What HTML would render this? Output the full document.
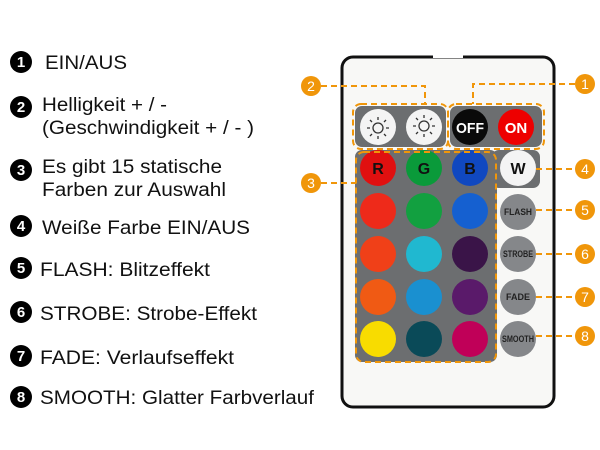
<!DOCTYPE html><html><head><style>body{margin:0;background:#fff}svg{display:block}</style></head><body>
<svg width="600" height="450" viewBox="0 0 600 450" xmlns="http://www.w3.org/2000/svg" font-family="Liberation Sans, sans-serif">
<g font-size="19" fill="#111">
<g fill="#000"><circle cx="21" cy="62" r="11"/><circle cx="21" cy="107" r="11"/><circle cx="21" cy="170" r="11"/><circle cx="21" cy="226" r="11"/><circle cx="21" cy="268" r="11"/><circle cx="21" cy="312" r="11"/><circle cx="21" cy="356" r="11"/><circle cx="21" cy="397" r="11"/></g>
<g fill="#fff" font-size="15" font-weight="bold" text-anchor="middle"><text x="21" y="67">1</text><text x="21" y="112">2</text><text x="21" y="175">3</text><text x="21" y="231">4</text><text x="21" y="273">5</text><text x="21" y="317">6</text><text x="21" y="361">7</text><text x="21" y="402">8</text></g>
<text x="45" y="69" textLength="82" lengthAdjust="spacingAndGlyphs">EIN/AUS</text>
<text x="42" y="111" textLength="125" lengthAdjust="spacingAndGlyphs">Helligkeit + / -</text>
<text x="42" y="134" textLength="212" lengthAdjust="spacingAndGlyphs">(Geschwindigkeit + / - )</text>
<text x="42" y="173" textLength="180" lengthAdjust="spacingAndGlyphs">Es gibt 15 statische</text>
<text x="42" y="196" textLength="184" lengthAdjust="spacingAndGlyphs">Farben zur Auswahl</text>
<text x="42" y="234" textLength="208" lengthAdjust="spacingAndGlyphs">Weiße Farbe EIN/AUS</text>
<text x="40" y="276" textLength="170" lengthAdjust="spacingAndGlyphs">FLASH: Blitzeffekt</text>
<text x="40" y="320" textLength="217" lengthAdjust="spacingAndGlyphs">STROBE: Strobe-Effekt</text>
<text x="40" y="364" textLength="194" lengthAdjust="spacingAndGlyphs">FADE: Verlaufseffekt</text>
<text x="40" y="404" textLength="274" lengthAdjust="spacingAndGlyphs">SMOOTH: Glatter Farbverlauf</text>
</g>
<rect x="342" y="57" width="212" height="350" rx="11" fill="#f8f8f6" stroke="#111" stroke-width="3"/>
<rect x="433" y="54" width="30" height="4" fill="#fff"/>
<g fill="#6c6e70">
<rect x="355" y="106" width="91" height="41" rx="7"/>
<rect x="450" y="106" width="92" height="41" rx="7"/>
<rect x="355" y="150" width="142" height="212" rx="7"/>
<rect x="492" y="150" width="48" height="38" rx="7"/>
</g>
<g>
<circle cx="378" cy="127" r="18" fill="#f4f4f4"/><circle cx="424" cy="127" r="18" fill="#f4f4f4"/>
<circle cx="470" cy="127" r="18" fill="#0a0a0a"/><circle cx="516" cy="127" r="18" fill="#e00"/>
<circle cx="378" cy="168" r="18" fill="#e01010"/><circle cx="424" cy="168" r="18" fill="#0a9a3a"/><circle cx="470" cy="168" r="18" fill="#1048c0"/>
<circle cx="378" cy="211" r="18" fill="#ee2a1a"/><circle cx="424" cy="211" r="18" fill="#12a040"/><circle cx="470" cy="211" r="18" fill="#1560d0"/>
<circle cx="378" cy="254" r="18" fill="#f04018"/><circle cx="424" cy="254" r="18" fill="#20b8d0"/><circle cx="470" cy="254" r="18" fill="#3a1448"/>
<circle cx="378" cy="297" r="18" fill="#f05a14"/><circle cx="424" cy="297" r="18" fill="#1a90d0"/><circle cx="470" cy="297" r="18" fill="#5a1a6a"/>
<circle cx="378" cy="339" r="18" fill="#f8dc00"/><circle cx="424" cy="339" r="18" fill="#0a4a58"/><circle cx="470" cy="339" r="18" fill="#c00058"/>
<circle cx="518" cy="168" r="18" fill="#f4f4f4"/>
<circle cx="518" cy="212" r="18" fill="#85878a"/><circle cx="518" cy="254" r="18" fill="#85878a"/><circle cx="518" cy="297" r="18" fill="#85878a"/><circle cx="518" cy="339" r="18" fill="#85878a"/>
</g>
<g fill="none" stroke="#333" stroke-width="1.3">
<circle cx="378" cy="128" r="5"/><circle cx="424" cy="126" r="5"/>
<path d="M378 120v-3M378 136v3M370 128h-3M386 128h3M372 122l-2-2M384 122l2-2M372 134l-2 2M384 134l2 2"/>
<path d="M424 118v-3M424 134v3M416 126h-3M432 126h3M418 120l-2-2M430 120l2-2M418 132l-2 2M430 132l2 2"/>
</g>
<g font-weight="bold" text-anchor="middle">
<text x="470" y="133" fill="#fff" font-size="15" textLength="28" lengthAdjust="spacingAndGlyphs">OFF</text><text x="516" y="133" fill="#fff" font-size="15">ON</text>
<text x="378" y="174" font-size="16" fill="#111">R</text><text x="424" y="174" font-size="16" fill="#111">G</text><text x="470" y="174" font-size="16" fill="#111">B</text>
<text x="518" y="174" font-size="16" fill="#111">W</text>
<g font-size="9" fill="#222"><text x="518" y="215" textLength="28" lengthAdjust="spacingAndGlyphs">FLASH</text><text x="518" y="257" textLength="30" lengthAdjust="spacingAndGlyphs">STROBE</text><text x="518" y="300">FADE</text><text x="518" y="342" textLength="32" lengthAdjust="spacingAndGlyphs">SMOOTH</text></g>
</g>
<g fill="none" stroke="#f0960a" stroke-width="2" stroke-dasharray="6,4">
<rect x="353" y="104" width="95" height="45" rx="8"/>
<rect x="448" y="104" width="96" height="45" rx="8"/>
<rect x="356" y="152" width="140" height="210" rx="8"/>
<polyline points="575,84 473,84 473,104"/>
<polyline points="321,86 425,86 425,104"/>
<line x1="321" y1="183" x2="356" y2="183"/>
<line x1="536" y1="169" x2="575" y2="169"/>
<line x1="536" y1="210" x2="575" y2="210"/>
<line x1="536" y1="254" x2="575" y2="254"/>
<line x1="536" y1="297" x2="575" y2="297"/>
<line x1="536" y1="336" x2="575" y2="336"/>
</g>
<g fill="#f0960a"><circle cx="585" cy="84" r="10"/><circle cx="311" cy="86" r="10"/><circle cx="311" cy="183" r="10"/><circle cx="585" cy="169" r="10"/><circle cx="585" cy="210" r="10"/><circle cx="585" cy="254" r="10"/><circle cx="585" cy="297" r="10"/><circle cx="585" cy="336" r="10"/></g>
<g fill="#fff" font-size="14" text-anchor="middle"><text x="585" y="89">1</text><text x="311" y="91">2</text><text x="311" y="188">3</text><text x="585" y="174">4</text><text x="585" y="215">5</text><text x="585" y="259">6</text><text x="585" y="302">7</text><text x="585" y="341">8</text></g>
</svg></body></html>
